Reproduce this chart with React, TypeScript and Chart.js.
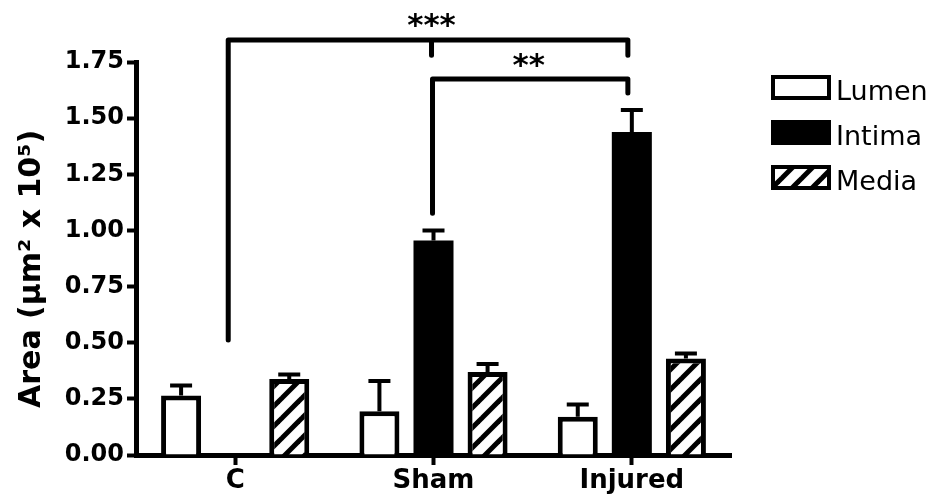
import React, { useEffect, useRef } from 'react';
import { Chart, registerables } from 'chart.js';

Chart.register(...registerables);

// ---- data ----
const categories = ['C', 'Sham', 'Injured'];
const seriesNames = ['Lumen', 'Intima', 'Media'];
const lumen = [0.265, 0.195, 0.17];
const lumenErr = [0.045, 0.135, 0.055];
const intima = [0, 0.955, 1.438];
const intimaErr = [0, 0.045, 0.098];
const media = [0.338, 0.37, 0.43];
const mediaErr = [0.02, 0.035, 0.022];
const yTicks = [0, 0.25, 0.5, 0.75, 1.0, 1.25, 1.5, 1.75];
const yTickLabels = ['0.00', '0.25', '0.50', '0.75', '1.00', '1.25', '1.50', '1.75'];
const yTitle = 'Area (µm² x 10⁵)';

// significance brackets, in category / value units
const bracketTop = { x1: -0.035, x2: 1.98, y: 1.848, leftEnd: 0.512, rightEnd: 1.78, midX: 0.99, midEnd: 1.78 };
const bracketInner = { x1: 0.995, x2: 1.98, y: 1.674, leftEnd: 1.077, rightEnd: 1.612 };
const stars = [
  { text: '***', x: 0.99, y: 1.94 },
  { text: '**', x: 1.48, y: 1.763 },
];

const errors = [lumenErr, intimaErr, mediaErr];

function makeHatch(): CanvasPattern | string {
  const P = 20;
  const c = document.createElement('canvas');
  c.width = P;
  c.height = P;
  const g = c.getContext('2d');
  if (!g) return '#888';
  g.fillStyle = '#fff';
  g.fillRect(0, 0, P, P);
  g.strokeStyle = '#000';
  g.lineWidth = 5;
  g.lineCap = 'square';
  const seg = (x1: number, y1: number, x2: number, y2: number) => {
    g.beginPath();
    g.moveTo(x1, y1);
    g.lineTo(x2, y2);
    g.stroke();
  };
  seg(-P, P * 2, P * 2, -P);
  seg(-P, P, P, -P);
  seg(0, P * 2, P * 2, 0);
  const pat = g.createPattern(c, 'repeat');
  return pat || '#888';
}

const errorBarPlugin = {
  id: 'errorBars',
  afterDatasetsDraw(chart: any) {
    const ctx = chart.ctx;
    const yScale = chart.scales.y;
    ctx.save();
    ctx.strokeStyle = '#000';
    ctx.lineWidth = 4;
    chart.data.datasets.forEach((ds: any, i: number) => {
      const meta = chart.getDatasetMeta(i);
      meta.data.forEach((bar: any, j: number) => {
        const err = errors[i][j];
        const v = ds.data[j];
        if (!err || v == null) return;
        const yTop = yScale.getPixelForValue(v + err);
        ctx.beginPath();
        ctx.moveTo(bar.x, bar.y);
        ctx.lineTo(bar.x, yTop);
        ctx.moveTo(bar.x - 11, yTop);
        ctx.lineTo(bar.x + 11, yTop);
        ctx.stroke();
      });
    });
    ctx.restore();
  },
};

const annotationPlugin = {
  id: 'sigBrackets',
  afterDraw(chart: any) {
    const ctx = chart.ctx;
    const xs = chart.scales.x;
    const ys = chart.scales.y;
    const px = (v: number) => xs.getPixelForValue(v);
    const py = (v: number) => ys.getPixelForValue(v);
    ctx.save();
    ctx.strokeStyle = '#000';
    ctx.lineWidth = 5;
    ctx.lineCap = 'round';
    ctx.lineJoin = 'round';
    // top bracket
    ctx.beginPath();
    ctx.moveTo(px(bracketTop.x1), py(bracketTop.leftEnd));
    ctx.lineTo(px(bracketTop.x1), py(bracketTop.y));
    ctx.lineTo(px(bracketTop.x2), py(bracketTop.y));
    ctx.lineTo(px(bracketTop.x2), py(bracketTop.rightEnd));
    ctx.moveTo(px(bracketTop.midX), py(bracketTop.y));
    ctx.lineTo(px(bracketTop.midX), py(bracketTop.midEnd));
    ctx.stroke();
    // inner bracket
    ctx.beginPath();
    ctx.moveTo(px(bracketInner.x1), py(bracketInner.leftEnd));
    ctx.lineTo(px(bracketInner.x1), py(bracketInner.y));
    ctx.lineTo(px(bracketInner.x2), py(bracketInner.y));
    ctx.lineTo(px(bracketInner.x2), py(bracketInner.rightEnd));
    ctx.stroke();
    // stars
    const size = 31;
    ctx.fillStyle = '#000';
    ctx.font = `bold ${size}px "DejaVu Sans"`;
    ctx.textAlign = 'center';
    ctx.textBaseline = 'alphabetic';
    stars.forEach((s) => {
      ctx.fillText(s.text, px(s.x), py(s.y) + 0.52 * size);
    });
    ctx.restore();
  },
};

const legendPlugin = {
  id: 'customLegend',
  afterDraw(chart: any) {
    const ctx = chart.ctx;
    const boxX = 771;
    const boxW = 60;
    const boxH = 25;
    const top0 = 75;
    const step = 45;
    ctx.save();
    ctx.font = '27px "DejaVu Sans"';
    ctx.textAlign = 'left';
    ctx.textBaseline = 'alphabetic';
    chart.data.datasets.forEach((ds: any, i: number) => {
      const y = top0 + i * step;
      ctx.fillStyle = ds.backgroundColor;
      ctx.fillRect(boxX, y, boxW, boxH);
      ctx.strokeStyle = '#000';
      ctx.lineWidth = 4;
      ctx.strokeRect(boxX + 2, y + 2, boxW - 4, boxH - 4);
      ctx.fillStyle = '#000';
      ctx.fillText(ds.label, boxX + boxW + 5, y + boxH);
    });
    ctx.restore();
  },
};

export default function App() {
  const ref = useRef<HTMLCanvasElement | null>(null);

  useEffect(() => {
    const canvas = ref.current;
    if (!canvas) return;
    Chart.defaults.font.family = '"DejaVu Sans"';
    const hatch = makeHatch();
    const chart = new Chart(canvas, {
      type: 'bar',
      data: {
        labels: categories,
        datasets: [
          { label: seriesNames[0], data: lumen, backgroundColor: '#fff', borderColor: '#000', borderWidth: 5 },
          { label: seriesNames[1], data: intima, backgroundColor: '#000', borderColor: '#000', borderWidth: 0 },
          { label: seriesNames[2], data: media, backgroundColor: hatch as any, borderColor: '#000', borderWidth: 5 },
        ],
      },
      options: {
        animation: false,
        responsive: false,
        devicePixelRatio: 1,
        layout: { padding: { left: 0, top: 62, right: 206, bottom: 0 } },
        datasets: { bar: { categoryPercentage: 0.818, barPercentage: 0.74 } },
        plugins: { legend: { display: false }, tooltip: { enabled: false } },
        scales: {
          x: {
            type: 'category',
            grid: { display: true, drawOnChartArea: false, offset: false, tickLength: 10, tickWidth: 4, tickColor: '#000' },
            border: { display: true, color: '#000', width: 5 },
            ticks: { color: '#000', font: { family: '"DejaVu Sans"', weight: 'bold', size: 26 }, padding: 1 },
            afterFit: (s: any) => { s.height = 45; },
          },
          y: {
            min: 0,
            max: 1.75,
            afterBuildTicks: (s: any) => { s.ticks = yTicks.map((v) => ({ value: v })); },
            ticks: {
              color: '#000',
              font: { family: '"DejaVu Sans"', weight: 'bold', size: 24 },
              padding: 3,
              callback: (_v: any, idx: number) => yTickLabels[idx],
            },
            grid: { display: true, drawOnChartArea: false, tickLength: 9, tickWidth: 4, tickColor: '#000' },
            border: { display: true, color: '#000', width: 5 },
            title: {
              display: true,
              text: yTitle + '  ',
              color: '#000',
              font: { family: '"DejaVu Sans"', weight: 'bold', size: 30 },
              padding: { top: 14, bottom: 0 },
            },
            afterFit: (s: any) => { s.width = 136; },
          },
        },
      },
      plugins: [errorBarPlugin, annotationPlugin, legendPlugin],
    });
    return () => chart.destroy();
  }, []);

  return (
    <div style={{ position: 'absolute', left: 0, top: 0, width: 937, height: 500, background: '#fff' }}>
      <canvas ref={ref} width={937} height={500} />
    </div>
  );
}
